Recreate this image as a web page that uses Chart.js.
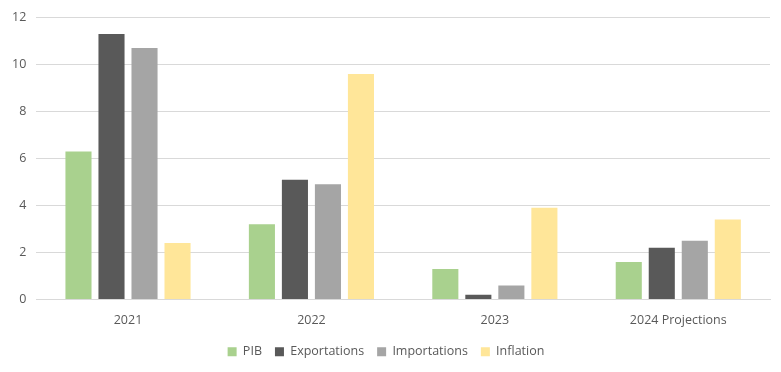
<!DOCTYPE html>
<html>
<head>
<meta charset="utf-8">
<script src="https://cdn.jsdelivr.net/npm/chart.js@4.4.1/dist/chart.umd.min.js"></script>
<style>
  html, body { margin: 0; padding: 0; background: #fff; }
  #wrap { width: 781px; height: 372px; }
</style>
</head>
<body>
<div id="wrap"><canvas id="mychart"></canvas></div>
<script>
// categories along the x-axis
var years = ['2021', '2022', '2023', '2024 Projections'];
// series values
var pib = [6.3, 3.2, 1.3, 1.6];
var exportations = [11.3, 5.1, 0.2, 2.2];
var importations = [10.7, 4.9, 0.6, 2.5];
var inflation = [2.4, 9.6, 3.9, 3.4];

Chart.defaults.font.family = "'Open Sans', 'Liberation Sans', sans-serif";
Chart.defaults.font.size = 12;
Chart.defaults.color = '#595959';

var ctx = document.getElementById('mychart');
var myChart = new Chart(ctx, {
  type: 'bar',
  data: {
    labels: years,
    datasets: [
      { label: 'PIB', data: pib, backgroundColor: '#A9D18E' },
      { label: 'Exportations', data: exportations, backgroundColor: '#595959' },
      { label: 'Importations', data: importations, backgroundColor: '#A5A5A5' },
      { label: 'Inflation', data: inflation, backgroundColor: '#FFE699' }
    ]
  },
  options: {
    responsive: true,
    maintainAspectRatio: false,
    animation: false,
    layout: { padding: { left: 2, right: 11, top: 4, bottom: 4 } },
    datasets: {
      bar: { categoryPercentage: 0.72, barPercentage: 0.79 }
    },
    scales: {
      x: {
        grid: { display: false },
        border: { color: '#D9D9D9' },
        ticks: { padding: 5, font: { size: 12.5 } }
      },
      y: {
        min: 0,
        max: 12,
        ticks: { stepSize: 2, padding: 10, font: { size: 12.5 } },
        grid: { color: '#D9D9D9', drawTicks: false },
        border: { display: false }
      }
    },
    plugins: {
      legend: {
        position: 'bottom',
        labels: { boxWidth: 9, boxHeight: 9, padding: 13, font: { size: 12.5 } }
      },
      tooltip: { enabled: false }
    }
  }
});
</script>
</body>
</html>
